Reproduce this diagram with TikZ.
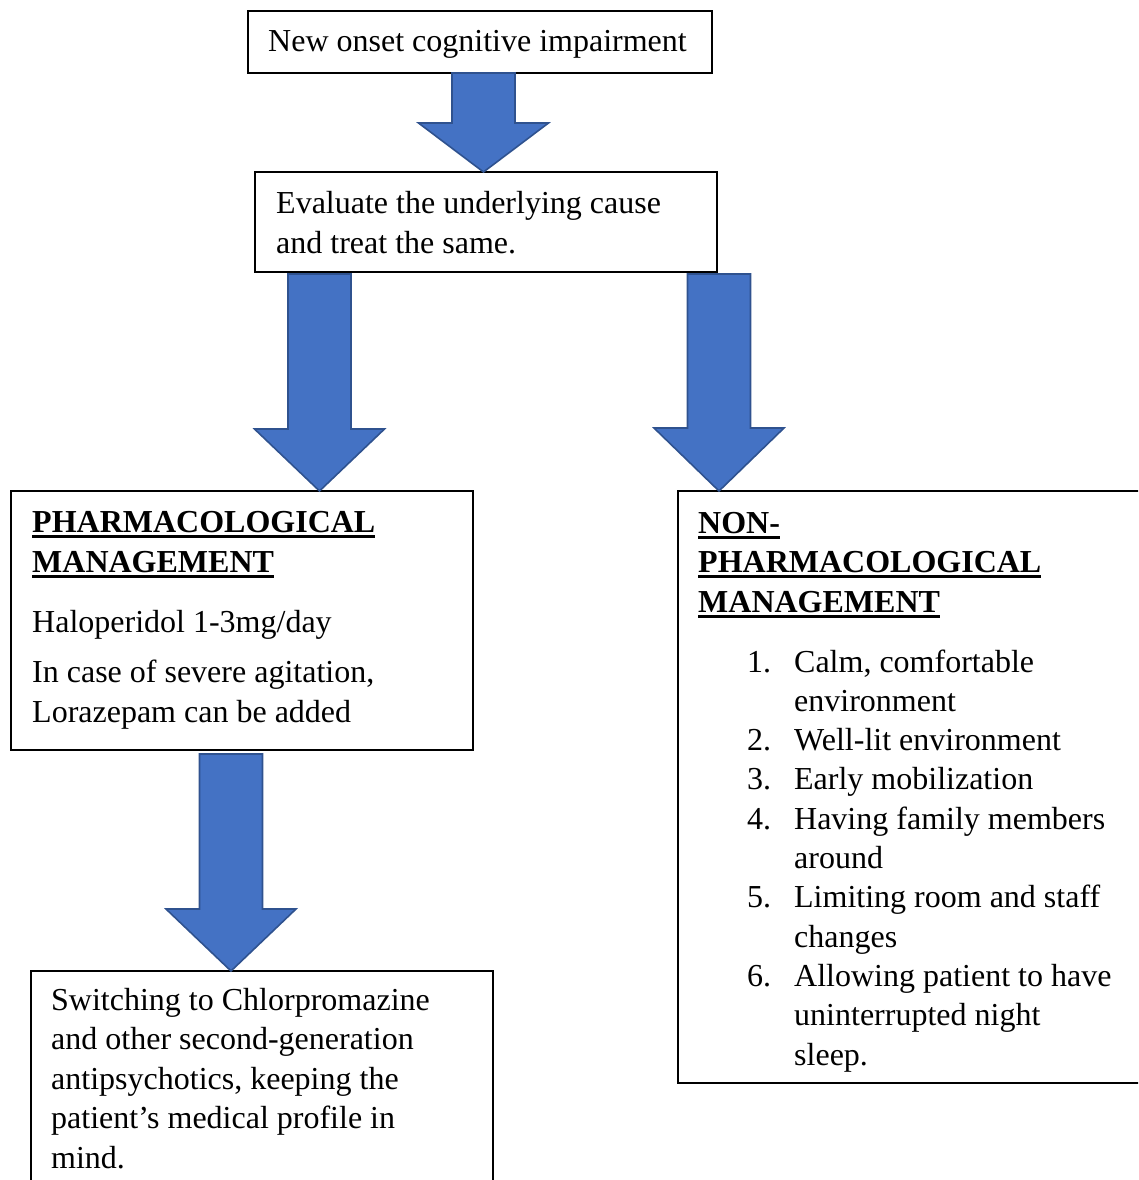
\documentclass[tikz,border=0pt]{standalone}
\usepackage{fontspec}
\setmainfont{Liberation Serif}
\usetikzlibrary{calc}

\definecolor{arrowfill}{HTML}{4472C4}
\definecolor{arrowedge}{HTML}{2F528F}

% bold heading with a thick rule under it
\newcommand\headline[1]{\setbox0\hbox{\bfseries #1}\rlap{\rule[-5.5pt]{\wd0}{3pt}}\box0}
% numbered item with hanging indent
\newcommand\itemno[1]{\makebox[47pt][l]{#1}}
\newcommand\itemcont{\hspace*{47pt}}

\tikzset{
  box/.style={draw=black, line width=1.2pt, fill=white},
  blockarrow/.style={fill=arrowfill, draw=arrowedge, line width=1.6pt, line join=miter},
  % multi-line texts are placed by the baseline of their last line
  txt/.style={anchor=base west, inner sep=0pt, align=left, font=\fontsize{32}{39.3}\selectfont},
}

% block arrow pointing down: #1 start, #2 tip, #3 head length
\newcommand\blockdown[3]{%
  \draw[blockarrow] let \p1=(#1), \p2=(#2) in
    (\x1-31.5pt,\y1) -- (\x1+31.5pt,\y1) -- (\x1+31.5pt,\y2+#3pt)
    -- (\x1+65pt,\y2+#3pt) -- (\x2,\y2) -- (\x1-65pt,\y2+#3pt)
    -- (\x1-31.5pt,\y2+#3pt) -- cycle;}

\begin{document}
\begin{tikzpicture}[x=1pt,y=-1pt]
\useasboundingbox (0,0) rectangle (1138,1180);
\clip (0,0) rectangle (1138,1180);

% boxes
\draw[box] (248,11) rectangle (712,73);
\draw[box] (255,172) rectangle (717,272);
\draw[box] (11,491) rectangle (473,750);
\draw[box] (678,491) rectangle (1146,1083);
\draw[box] (31,971) rectangle (493,1196);

% named anchor points for the arrows
\coordinate (b1s) at (483.5,73);
\coordinate (b2top) at (483.5,172);
\coordinate (b2sl) at (319.5,274);
\coordinate (b3top) at (319.5,491);
\coordinate (b2sr) at (719,274);
\coordinate (b4top) at (719,491);
\coordinate (b3s) at (231,754);
\coordinate (b5top) at (231,971);

\blockdown{b1s}{b2top}{49}
\blockdown{b2sl}{b3top}{62}
\blockdown{b2sr}{b4top}{63}
\blockdown{b3s}{b5top}{62}

% texts
\node[txt] (t1) at (268,52) {New onset cognitive impairment};
\node[txt, font=\fontsize{32}{40}\selectfont] (t2) at (276,253) {Evaluate the underlying cause\\and treat the same.};

\node[txt, font=\fontsize{32}{40}\selectfont] (t3a) at (32,572) {\headline{PHARMACOLOGICAL}\\\headline{MANAGEMENT}};
\node[txt] (t3b) at (32,632) {Haloperidol 1-3mg/day};
\node[txt] (t3c) at (32,722) {In case of severe agitation,\\Lorazepam can be added};

\node[txt, font=\fontsize{32}{39.5}\selectfont] (t4a) at (698,612) {\headline{NON-}\\\headline{PHARMACOLOGICAL}\\\headline{MANAGEMENT}};
\node[txt] (t4b) at (747,1065) {%
\itemno{1.}Calm, comfortable\\
\itemcont environment\\
\itemno{2.}Well-lit environment\\
\itemno{3.}Early mobilization\\
\itemno{4.}Having family members\\
\itemcont around\\
\itemno{5.}Limiting room and staff\\
\itemcont changes\\
\itemno{6.}Allowing patient to have\\
\itemcont uninterrupted night\\
\itemcont sleep.};

\node[txt, font=\fontsize{32}{39.5}\selectfont] (t5) at (51,1168) {Switching to Chlorpromazine\\and other second-generation\\antipsychotics, keeping the\\patient’s medical profile in\\mind.};
\end{tikzpicture}
\end{document}
